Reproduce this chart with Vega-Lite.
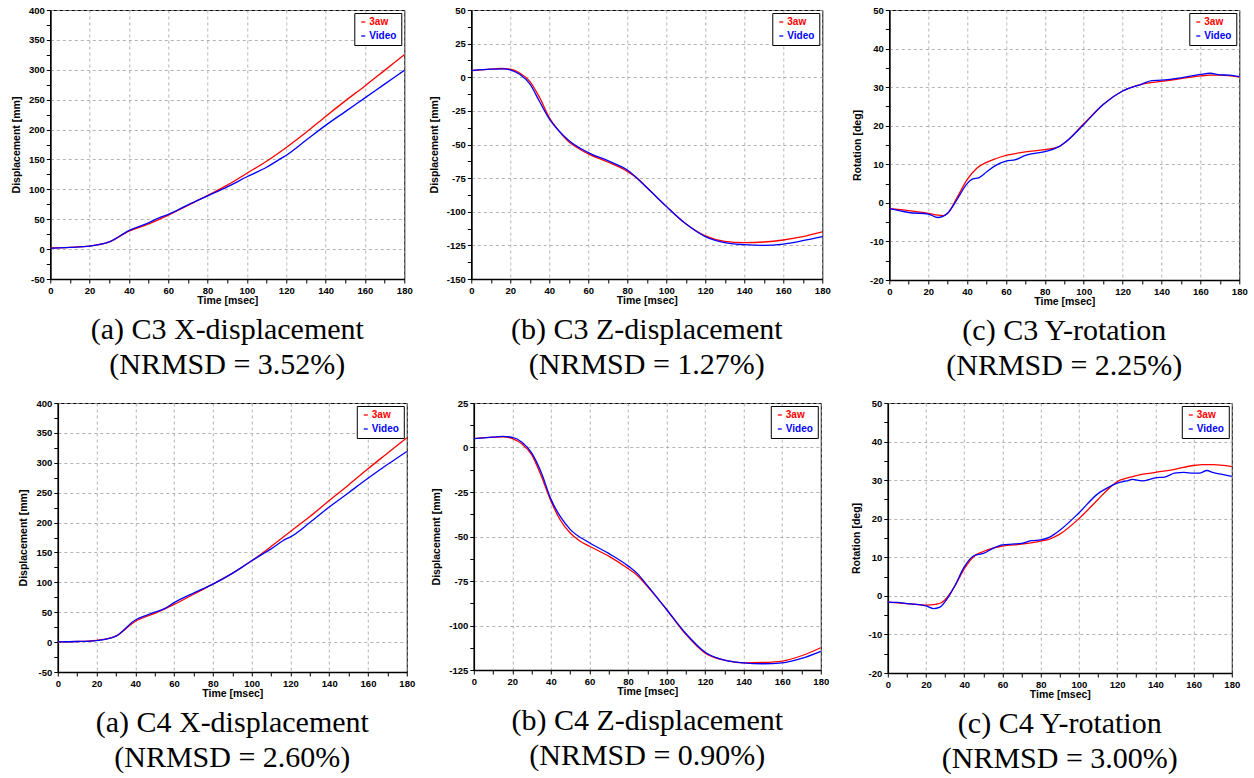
{
  "$schema": "https://vega.github.io/schema/vega-lite/v6.json",
  "background": "white",
  "padding": {"left": 10, "top": 4, "right": 4, "bottom": 2},
  "config": {
    "view": {"stroke": "black", "strokeWidth": 1},
    "axis": {
      "labelFont": "Liberation Sans", "labelFontWeight": "bold", "labelFontSize": 9.5, "labelColor": "black",
      "titleFont": "Liberation Sans", "titleFontWeight": "bold", "titleFontSize": 10.5, "titleColor": "black",
      "domainColor": "black", "domainWidth": 1.6, "tickColor": "black", "tickSize": 4, "tickWidth": 1,
      "gridColor": "#a0a0a0", "gridDash": [3, 3], "gridWidth": 0.8,
      "labelPadding": 2, "labelFlush": false, "labelOverlap": false
    },
    "axisX": {"titlePadding": 1},
    "axisY": {"titlePadding": 7},
    "legend": {
      "orient": "top-right", "offset": 3, "strokeColor": "black", "fillColor": "white", "padding": 4,
      "title": null, "symbolType": "stroke", "symbolSize": 16, "symbolStrokeWidth": 1,
      "labelFont": "Liberation Sans", "labelFontSize": 10, "labelFontWeight": "bold", "rowPadding": 4, "labelOffset": 1,
      "labelColor": {"expr": "datum.value == '3aw' ? '#ff0000' : '#0000ff'"}
    },
    "title": {"font": "Liberation Serif", "fontSize": 30, "fontWeight": "normal", "color": "black", "lineHeight": 35, "offset": 9, "orient": "bottom"},
    "line": {"strokeWidth": 1.3, "interpolate": "monotone"}
  },
  "datasets": {
    "c3x": [
      {"t":0,"v":2,"s":"3aw"},{"t":10,"v":3,"s":"3aw"},{"t":20,"v":5,"s":"3aw"},{"t":30,"v":12,"s":"3aw"},{"t":40,"v":30,"s":"3aw"},{"t":50,"v":42,"s":"3aw"},{"t":60,"v":57,"s":"3aw"},{"t":70,"v":73,"s":"3aw"},{"t":80,"v":90,"s":"3aw"},{"t":90,"v":107,"s":"3aw"},{"t":100,"v":127,"s":"3aw"},{"t":110,"v":147,"s":"3aw"},{"t":120,"v":170,"s":"3aw"},{"t":130,"v":195,"s":"3aw"},{"t":140,"v":222,"s":"3aw"},{"t":150,"v":248,"s":"3aw"},{"t":160,"v":273,"s":"3aw"},{"t":170,"v":299,"s":"3aw"},{"t":180,"v":325,"s":"3aw"},
      {"t":0,"v":1.5,"s":"Video"},{"t":10,"v":3,"s":"Video"},{"t":20,"v":5,"s":"Video"},{"t":30,"v":12,"s":"Video"},{"t":40,"v":31,"s":"Video"},{"t":50,"v":44,"s":"Video"},{"t":55,"v":52,"s":"Video"},{"t":60,"v":58,"s":"Video"},{"t":70,"v":74,"s":"Video"},{"t":80,"v":89,"s":"Video"},{"t":90,"v":104,"s":"Video"},{"t":100,"v":121,"s":"Video"},{"t":110,"v":137,"s":"Video"},{"t":118,"v":153,"s":"Video"},{"t":120,"v":157,"s":"Video"},{"t":130,"v":182,"s":"Video"},{"t":140,"v":207,"s":"Video"},{"t":150,"v":230,"s":"Video"},{"t":160,"v":253,"s":"Video"},{"t":170,"v":276,"s":"Video"},{"t":180,"v":299,"s":"Video"}
    ],
    "c3z": [
      {"t":0,"v":5,"s":"3aw"},{"t":10,"v":6,"s":"3aw"},{"t":15,"v":6.5,"s":"3aw"},{"t":20,"v":6,"s":"3aw"},{"t":25,"v":3,"s":"3aw"},{"t":30,"v":-3,"s":"3aw"},{"t":35,"v":-15,"s":"3aw"},{"t":40,"v":-30,"s":"3aw"},{"t":45,"v":-40,"s":"3aw"},{"t":50,"v":-48,"s":"3aw"},{"t":55,"v":-53,"s":"3aw"},{"t":60,"v":-57,"s":"3aw"},{"t":70,"v":-63,"s":"3aw"},{"t":80,"v":-70,"s":"3aw"},{"t":85,"v":-75,"s":"3aw"},{"t":90,"v":-82,"s":"3aw"},{"t":100,"v":-96,"s":"3aw"},{"t":110,"v":-109,"s":"3aw"},{"t":120,"v":-118,"s":"3aw"},{"t":130,"v":-122,"s":"3aw"},{"t":140,"v":-123,"s":"3aw"},{"t":150,"v":-122.5,"s":"3aw"},{"t":160,"v":-121,"s":"3aw"},{"t":170,"v":-118.5,"s":"3aw"},{"t":180,"v":-115,"s":"3aw"},
      {"t":0,"v":5,"s":"Video"},{"t":10,"v":6,"s":"Video"},{"t":17,"v":6.3,"s":"Video"},{"t":20,"v":5.5,"s":"Video"},{"t":25,"v":2,"s":"Video"},{"t":30,"v":-5,"s":"Video"},{"t":35,"v":-18,"s":"Video"},{"t":40,"v":-31,"s":"Video"},{"t":45,"v":-40,"s":"Video"},{"t":50,"v":-47,"s":"Video"},{"t":60,"v":-56,"s":"Video"},{"t":70,"v":-62,"s":"Video"},{"t":80,"v":-69,"s":"Video"},{"t":90,"v":-82,"s":"Video"},{"t":100,"v":-96,"s":"Video"},{"t":110,"v":-109,"s":"Video"},{"t":120,"v":-118.5,"s":"Video"},{"t":130,"v":-123,"s":"Video"},{"t":140,"v":-124.5,"s":"Video"},{"t":150,"v":-125,"s":"Video"},{"t":160,"v":-124,"s":"Video"},{"t":170,"v":-121.5,"s":"Video"},{"t":180,"v":-118.5,"s":"Video"}
    ],
    "c3r": [
      {"t":0,"v":-1.5,"s":"3aw"},{"t":10,"v":-2,"s":"3aw"},{"t":20,"v":-2.7,"s":"3aw"},{"t":25,"v":-3.2,"s":"3aw"},{"t":28,"v":-3.3,"s":"3aw"},{"t":30,"v":-2.7,"s":"3aw"},{"t":35,"v":1.5,"s":"3aw"},{"t":40,"v":6,"s":"3aw"},{"t":45,"v":9,"s":"3aw"},{"t":50,"v":10.5,"s":"3aw"},{"t":55,"v":11.5,"s":"3aw"},{"t":60,"v":12.3,"s":"3aw"},{"t":70,"v":13.2,"s":"3aw"},{"t":80,"v":13.8,"s":"3aw"},{"t":87,"v":14.5,"s":"3aw"},{"t":90,"v":15.5,"s":"3aw"},{"t":100,"v":20.5,"s":"3aw"},{"t":110,"v":25.5,"s":"3aw"},{"t":120,"v":29,"s":"3aw"},{"t":130,"v":30.8,"s":"3aw"},{"t":140,"v":31.5,"s":"3aw"},{"t":150,"v":32.2,"s":"3aw"},{"t":160,"v":32.9,"s":"3aw"},{"t":165,"v":33.1,"s":"3aw"},{"t":170,"v":33.1,"s":"3aw"},{"t":180,"v":32.6,"s":"3aw"},
      {"t":0,"v":-1.5,"s":"Video"},{"t":5,"v":-2,"s":"Video"},{"t":10,"v":-2.5,"s":"Video"},{"t":20,"v":-2.9,"s":"Video"},{"t":25,"v":-3.8,"s":"Video"},{"t":30,"v":-2.7,"s":"Video"},{"t":35,"v":1,"s":"Video"},{"t":40,"v":5,"s":"Video"},{"t":43,"v":6.2,"s":"Video"},{"t":46,"v":6.5,"s":"Video"},{"t":50,"v":8,"s":"Video"},{"t":55,"v":9.8,"s":"Video"},{"t":60,"v":10.8,"s":"Video"},{"t":65,"v":11.2,"s":"Video"},{"t":70,"v":12.3,"s":"Video"},{"t":80,"v":13.3,"s":"Video"},{"t":87,"v":14.5,"s":"Video"},{"t":90,"v":15.5,"s":"Video"},{"t":100,"v":20.3,"s":"Video"},{"t":110,"v":25.5,"s":"Video"},{"t":120,"v":29,"s":"Video"},{"t":130,"v":30.8,"s":"Video"},{"t":135,"v":31.7,"s":"Video"},{"t":140,"v":31.8,"s":"Video"},{"t":150,"v":32.4,"s":"Video"},{"t":160,"v":33.3,"s":"Video"},{"t":165,"v":33.6,"s":"Video"},{"t":170,"v":33.2,"s":"Video"},{"t":175,"v":33.1,"s":"Video"},{"t":180,"v":32.7,"s":"Video"}
    ],
    "c4x": [
      {"t":0,"v":0.5,"s":"3aw"},{"t":10,"v":1,"s":"3aw"},{"t":20,"v":3,"s":"3aw"},{"t":30,"v":10,"s":"3aw"},{"t":35,"v":22,"s":"3aw"},{"t":40,"v":35,"s":"3aw"},{"t":45,"v":42,"s":"3aw"},{"t":50,"v":48,"s":"3aw"},{"t":60,"v":63,"s":"3aw"},{"t":70,"v":80,"s":"3aw"},{"t":80,"v":97,"s":"3aw"},{"t":90,"v":115,"s":"3aw"},{"t":100,"v":136,"s":"3aw"},{"t":110,"v":160,"s":"3aw"},{"t":120,"v":185,"s":"3aw"},{"t":130,"v":210,"s":"3aw"},{"t":140,"v":237,"s":"3aw"},{"t":150,"v":263,"s":"3aw"},{"t":160,"v":290,"s":"3aw"},{"t":170,"v":316,"s":"3aw"},{"t":180,"v":342,"s":"3aw"},
      {"t":0,"v":0.5,"s":"Video"},{"t":10,"v":1,"s":"Video"},{"t":20,"v":2.5,"s":"Video"},{"t":30,"v":10,"s":"Video"},{"t":40,"v":37,"s":"Video"},{"t":45,"v":44,"s":"Video"},{"t":50,"v":50,"s":"Video"},{"t":55,"v":56,"s":"Video"},{"t":60,"v":66,"s":"Video"},{"t":70,"v":82,"s":"Video"},{"t":80,"v":97,"s":"Video"},{"t":90,"v":115,"s":"Video"},{"t":100,"v":136,"s":"Video"},{"t":110,"v":156,"s":"Video"},{"t":118,"v":173,"s":"Video"},{"t":120,"v":176,"s":"Video"},{"t":130,"v":200,"s":"Video"},{"t":140,"v":226,"s":"Video"},{"t":150,"v":250,"s":"Video"},{"t":160,"v":274,"s":"Video"},{"t":170,"v":297,"s":"Video"},{"t":180,"v":319,"s":"Video"}
    ],
    "c4z": [
      {"t":0,"v":5,"s":"3aw"},{"t":10,"v":5.8,"s":"3aw"},{"t":15,"v":6,"s":"3aw"},{"t":20,"v":5,"s":"3aw"},{"t":25,"v":2,"s":"3aw"},{"t":30,"v":-4,"s":"3aw"},{"t":35,"v":-16,"s":"3aw"},{"t":40,"v":-30,"s":"3aw"},{"t":45,"v":-41,"s":"3aw"},{"t":50,"v":-48,"s":"3aw"},{"t":55,"v":-52.5,"s":"3aw"},{"t":60,"v":-55.5,"s":"3aw"},{"t":70,"v":-61,"s":"3aw"},{"t":80,"v":-68,"s":"3aw"},{"t":85,"v":-72,"s":"3aw"},{"t":90,"v":-78,"s":"3aw"},{"t":100,"v":-91,"s":"3aw"},{"t":110,"v":-105,"s":"3aw"},{"t":120,"v":-115.5,"s":"3aw"},{"t":130,"v":-119.5,"s":"3aw"},{"t":140,"v":-121,"s":"3aw"},{"t":150,"v":-120.8,"s":"3aw"},{"t":160,"v":-120,"s":"3aw"},{"t":170,"v":-117,"s":"3aw"},{"t":180,"v":-112.5,"s":"3aw"},
      {"t":0,"v":5,"s":"Video"},{"t":10,"v":5.8,"s":"Video"},{"t":15,"v":6.2,"s":"Video"},{"t":20,"v":5.7,"s":"Video"},{"t":25,"v":3,"s":"Video"},{"t":30,"v":-3,"s":"Video"},{"t":35,"v":-14,"s":"Video"},{"t":40,"v":-29,"s":"Video"},{"t":45,"v":-39,"s":"Video"},{"t":50,"v":-46,"s":"Video"},{"t":60,"v":-53.5,"s":"Video"},{"t":70,"v":-59.5,"s":"Video"},{"t":80,"v":-66.5,"s":"Video"},{"t":85,"v":-71,"s":"Video"},{"t":90,"v":-77.5,"s":"Video"},{"t":100,"v":-91,"s":"Video"},{"t":110,"v":-104.5,"s":"Video"},{"t":120,"v":-115,"s":"Video"},{"t":130,"v":-119.5,"s":"Video"},{"t":140,"v":-121,"s":"Video"},{"t":150,"v":-121.5,"s":"Video"},{"t":160,"v":-121,"s":"Video"},{"t":170,"v":-118.5,"s":"Video"},{"t":180,"v":-114.5,"s":"Video"}
    ],
    "c4r": [
      {"t":0,"v":-1.6,"s":"3aw"},{"t":10,"v":-2,"s":"3aw"},{"t":20,"v":-2.4,"s":"3aw"},{"t":25,"v":-2.2,"s":"3aw"},{"t":28,"v":-1.8,"s":"3aw"},{"t":30,"v":-1,"s":"3aw"},{"t":35,"v":2.5,"s":"3aw"},{"t":40,"v":7,"s":"3aw"},{"t":45,"v":10.2,"s":"3aw"},{"t":50,"v":11.5,"s":"3aw"},{"t":55,"v":12.4,"s":"3aw"},{"t":60,"v":12.9,"s":"3aw"},{"t":70,"v":13.4,"s":"3aw"},{"t":80,"v":14.2,"s":"3aw"},{"t":85,"v":14.8,"s":"3aw"},{"t":90,"v":16,"s":"3aw"},{"t":100,"v":20,"s":"3aw"},{"t":110,"v":25,"s":"3aw"},{"t":115,"v":27.5,"s":"3aw"},{"t":120,"v":29.6,"s":"3aw"},{"t":125,"v":30.5,"s":"3aw"},{"t":130,"v":31.2,"s":"3aw"},{"t":140,"v":32,"s":"3aw"},{"t":150,"v":32.8,"s":"3aw"},{"t":160,"v":33.8,"s":"3aw"},{"t":165,"v":34,"s":"3aw"},{"t":170,"v":34,"s":"3aw"},{"t":180,"v":33.5,"s":"3aw"},
      {"t":0,"v":-1.6,"s":"Video"},{"t":5,"v":-1.7,"s":"Video"},{"t":10,"v":-2,"s":"Video"},{"t":20,"v":-2.6,"s":"Video"},{"t":24,"v":-3.3,"s":"Video"},{"t":27,"v":-3,"s":"Video"},{"t":30,"v":-1.5,"s":"Video"},{"t":35,"v":2.5,"s":"Video"},{"t":40,"v":7.5,"s":"Video"},{"t":45,"v":10.4,"s":"Video"},{"t":50,"v":11,"s":"Video"},{"t":55,"v":12.3,"s":"Video"},{"t":60,"v":13.2,"s":"Video"},{"t":65,"v":13.4,"s":"Video"},{"t":70,"v":13.6,"s":"Video"},{"t":75,"v":14.3,"s":"Video"},{"t":80,"v":14.5,"s":"Video"},{"t":85,"v":15.3,"s":"Video"},{"t":90,"v":17,"s":"Video"},{"t":100,"v":21.5,"s":"Video"},{"t":110,"v":26.5,"s":"Video"},{"t":115,"v":28,"s":"Video"},{"t":120,"v":29.2,"s":"Video"},{"t":125,"v":29.8,"s":"Video"},{"t":128,"v":30.2,"s":"Video"},{"t":133,"v":29.8,"s":"Video"},{"t":140,"v":30.6,"s":"Video"},{"t":145,"v":30.8,"s":"Video"},{"t":150,"v":31.8,"s":"Video"},{"t":155,"v":32,"s":"Video"},{"t":160,"v":31.8,"s":"Video"},{"t":163,"v":31.8,"s":"Video"},{"t":167,"v":32.5,"s":"Video"},{"t":170,"v":32,"s":"Video"},{"t":175,"v":31.5,"s":"Video"},{"t":180,"v":31,"s":"Video"}
    ]
  },
  "spacing": 15,
  "center": true,
  "resolve": {"scale": {"color": "independent"}},
  "vconcat": [
    {
      "bounds": "flush",
      "spacing": 67,
      "resolve": {"scale": {"color": "independent"}},
      "hconcat": [
        {
          "width": 354, "height": 269,
          "data": {"name": "c3x"},
          "title": {"text": ["(a) C3 X-displacement", "(NRMSD = 3.52%)"], "orient": "bottom"},
          "mark": {"type": "line"},
          "encoding": {
            "x": {"field": "t", "type": "quantitative", "scale": {"domain": [0, 180], "nice": false},
              "axis": {"title": "Time [msec]", "values": [0,10,20,30,40,50,60,70,80,90,100,110,120,130,140,150,160,170,180],
                "labelExpr": "datum.value % 20 == 0 ? '' + datum.value : ''",
                "gridOpacity": {"condition": {"test": "datum.value % 20 == 0", "value": 1}, "value": 0}}},
            "y": {"field": "v", "type": "quantitative", "scale": {"domain": [-50, 400], "nice": false},
              "axis": {"title": "Displacement [mm]", "values": [-50,-25,0,25,50,75,100,125,150,175,200,225,250,275,300,325,350,375,400],
                "labelExpr": "datum.value % 50 == 0 ? '' + datum.value : ''",
                "gridOpacity": {"condition": {"test": "datum.value % 50 == 0", "value": 1}, "value": 0}}},
            "color": {"field": "s", "type": "nominal", "scale": {"domain": ["3aw", "Video"], "range": ["#ff0000", "#0000ff"]}}
          }
        },
        {
          "width": 351, "height": 269,
          "data": {"name": "c3z"},
          "title": {"text": ["(b) C3 Z-displacement", "(NRMSD = 1.27%)"], "orient": "bottom"},
          "mark": {"type": "line"},
          "encoding": {
            "x": {"field": "t", "type": "quantitative", "scale": {"domain": [0, 180], "nice": false},
              "axis": {"title": "Time [msec]", "values": [0,10,20,30,40,50,60,70,80,90,100,110,120,130,140,150,160,170,180],
                "labelExpr": "datum.value % 20 == 0 ? '' + datum.value : ''",
                "gridOpacity": {"condition": {"test": "datum.value % 20 == 0", "value": 1}, "value": 0}}},
            "y": {"field": "v", "type": "quantitative", "scale": {"domain": [-150, 50], "nice": false},
              "axis": {"title": "Displacement [mm]", "values": [-150,-137.5,-125,-112.5,-100,-87.5,-75,-62.5,-50,-37.5,-25,-12.5,0,12.5,25,37.5,50],
                "labelExpr": "datum.value % 25 == 0 ? '' + datum.value : ''",
                "gridOpacity": {"condition": {"test": "datum.value % 25 == 0", "value": 1}, "value": 0}}},
            "color": {"field": "s", "type": "nominal", "scale": {"domain": ["3aw", "Video"], "range": ["#ff0000", "#0000ff"]}}
          }
        },
        {
          "width": 350, "height": 270,
          "data": {"name": "c3r"},
          "title": {"text": ["(c) C3 Y-rotation", "(NRMSD = 2.25%)"], "orient": "bottom"},
          "mark": {"type": "line"},
          "encoding": {
            "x": {"field": "t", "type": "quantitative", "scale": {"domain": [0, 180], "nice": false},
              "axis": {"title": "Time [msec]", "values": [0,10,20,30,40,50,60,70,80,90,100,110,120,130,140,150,160,170,180],
                "labelExpr": "datum.value % 20 == 0 ? '' + datum.value : ''",
                "gridOpacity": {"condition": {"test": "datum.value % 20 == 0", "value": 1}, "value": 0}}},
            "y": {"field": "v", "type": "quantitative", "scale": {"domain": [-20, 50], "nice": false},
              "axis": {"title": "Rotation [deg]", "values": [-20,-15,-10,-5,0,5,10,15,20,25,30,35,40,45,50],
                "labelExpr": "datum.value % 10 == 0 ? '' + datum.value : ''",
                "gridOpacity": {"condition": {"test": "datum.value % 10 == 0", "value": 1}, "value": 0}}},
            "color": {"field": "s", "type": "nominal", "scale": {"domain": ["3aw", "Video"], "range": ["#ff0000", "#0000ff"]}}
          }
        }
      ]
    },
    {
      "bounds": "flush",
      "spacing": 67,
      "resolve": {"scale": {"color": "independent"}},
      "hconcat": [
        {
          "width": 349, "height": 269,
          "data": {"name": "c4x"},
          "title": {"text": ["(a) C4 X-displacement", "(NRMSD = 2.60%)"], "orient": "bottom"},
          "mark": {"type": "line"},
          "encoding": {
            "x": {"field": "t", "type": "quantitative", "scale": {"domain": [0, 180], "nice": false},
              "axis": {"title": "Time [msec]", "values": [0,10,20,30,40,50,60,70,80,90,100,110,120,130,140,150,160,170,180],
                "labelExpr": "datum.value % 20 == 0 ? '' + datum.value : ''",
                "gridOpacity": {"condition": {"test": "datum.value % 20 == 0", "value": 1}, "value": 0}}},
            "y": {"field": "v", "type": "quantitative", "scale": {"domain": [-50, 400], "nice": false},
              "axis": {"title": "Displacement [mm]", "values": [-50,-25,0,25,50,75,100,125,150,175,200,225,250,275,300,325,350,375,400],
                "labelExpr": "datum.value % 50 == 0 ? '' + datum.value : ''",
                "gridOpacity": {"condition": {"test": "datum.value % 50 == 0", "value": 1}, "value": 0}}},
            "color": {"field": "s", "type": "nominal", "scale": {"domain": ["3aw", "Video"], "range": ["#ff0000", "#0000ff"]}}
          }
        },
        {
          "width": 347, "height": 267,
          "data": {"name": "c4z"},
          "title": {"text": ["(b) C4 Z-displacement", "(NRMSD = 0.90%)"], "orient": "bottom"},
          "mark": {"type": "line"},
          "encoding": {
            "x": {"field": "t", "type": "quantitative", "scale": {"domain": [0, 180], "nice": false},
              "axis": {"title": "Time [msec]", "values": [0,10,20,30,40,50,60,70,80,90,100,110,120,130,140,150,160,170,180],
                "labelExpr": "datum.value % 20 == 0 ? '' + datum.value : ''",
                "gridOpacity": {"condition": {"test": "datum.value % 20 == 0", "value": 1}, "value": 0}}},
            "y": {"field": "v", "type": "quantitative", "scale": {"domain": [-125, 25], "nice": false},
              "axis": {"title": "Displacement [mm]", "values": [-125,-112.5,-100,-87.5,-75,-62.5,-50,-37.5,-25,-12.5,0,12.5,25],
                "labelExpr": "datum.value % 25 == 0 ? '' + datum.value : ''",
                "gridOpacity": {"condition": {"test": "datum.value % 25 == 0", "value": 1}, "value": 0}}},
            "color": {"field": "s", "type": "nominal", "scale": {"domain": ["3aw", "Video"], "range": ["#ff0000", "#0000ff"]}}
          }
        },
        {
          "width": 344, "height": 270,
          "data": {"name": "c4r"},
          "title": {"text": ["(c) C4 Y-rotation", "(NRMSD = 3.00%)"], "orient": "bottom"},
          "mark": {"type": "line"},
          "encoding": {
            "x": {"field": "t", "type": "quantitative", "scale": {"domain": [0, 180], "nice": false},
              "axis": {"title": "Time [msec]", "values": [0,10,20,30,40,50,60,70,80,90,100,110,120,130,140,150,160,170,180],
                "labelExpr": "datum.value % 20 == 0 ? '' + datum.value : ''",
                "gridOpacity": {"condition": {"test": "datum.value % 20 == 0", "value": 1}, "value": 0}}},
            "y": {"field": "v", "type": "quantitative", "scale": {"domain": [-20, 50], "nice": false},
              "axis": {"title": "Rotation [deg]", "values": [-20,-15,-10,-5,0,5,10,15,20,25,30,35,40,45,50],
                "labelExpr": "datum.value % 10 == 0 ? '' + datum.value : ''",
                "gridOpacity": {"condition": {"test": "datum.value % 10 == 0", "value": 1}, "value": 0}}},
            "color": {"field": "s", "type": "nominal", "scale": {"domain": ["3aw", "Video"], "range": ["#ff0000", "#0000ff"]}}
          }
        }
      ]
    }
  ]
}
